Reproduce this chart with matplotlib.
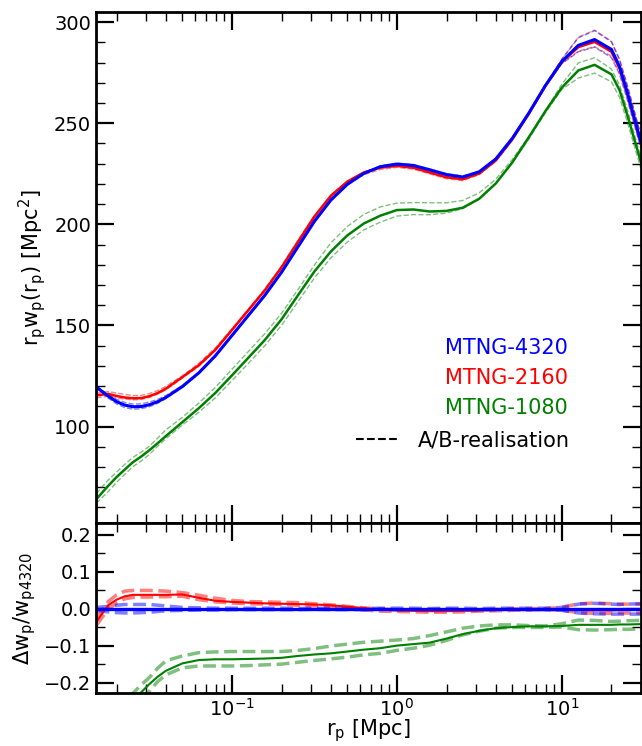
"""
projected clustering of the three MTNG runs
r_p * w_p(r_p) on top, fractional offset from MTNG-4320 below
"""
import numpy as np
import matplotlib
matplotlib.use('Agg')
import matplotlib.pyplot as plt
from matplotlib.lines import Line2D
from matplotlib.ticker import MultipleLocator

# projected separation [Mpc]
rp = [0.0151, 0.0178, 0.0200, 0.0224, 0.0251, 0.0282, 0.0316, 0.0355, 0.0398,
      0.0501, 0.0631, 0.0794, 0.100, 0.126, 0.158, 0.200, 0.251, 0.316, 0.398,
      0.501, 0.631, 0.794, 1.00, 1.26, 1.58, 2.00, 2.51, 3.16, 3.98, 5.01,
      6.31, 7.94, 10.0, 12.6, 15.8, 20.0, 22.4, 25.1, 30.2]

# r_p * w_p for MTNG-4320 [Mpc^2]
wp_4320 = [119.5, 115.0, 112.3, 110.6, 109.8, 109.9, 110.8, 112.3, 114.4,
           119.8, 126.6, 135.0, 145.0, 155.0, 164.8, 176.3, 188.8, 201.4, 212.0,
           219.8, 225.2, 228.5, 229.8, 229.1, 227.0, 224.6, 223.4, 226.0, 232.3,
           242.5, 255.0, 268.5, 280.5, 288.5, 291.4, 286.5, 278.0, 264.5, 240.5]

# fractional difference w.r.t. MTNG-4320, averaged runs
frac_2160 = [-0.034, 0.010, 0.025, 0.034, 0.038, 0.038, 0.038, 0.038, 0.038,
             0.039, 0.030, 0.022, 0.019, 0.017, 0.015, 0.014, 0.013, 0.012, 0.010,
             0.006, 0.002, -0.002, -0.004, -0.005, -0.006, -0.006, -0.005, -0.004, -0.003,
             -0.002, -0.001, 0.000, -0.001, -0.003, -0.004, -0.004, -0.003, -0.002, -0.001]
frac_1080 = [-0.463, -0.385, -0.332, -0.288, -0.250, -0.225, -0.203, -0.183, -0.167,
             -0.147, -0.138, -0.136, -0.136, -0.135, -0.134, -0.132, -0.127, -0.123, -0.120,
             -0.115, -0.110, -0.106, -0.099, -0.095, -0.091, -0.080, -0.068, -0.059, -0.052,
             -0.049, -0.047, -0.047, -0.046, -0.043, -0.043, -0.043, -0.042, -0.042, -0.041]

# single realisations A and B, also relative to the MTNG-4320 mean
frac_4320_A = [0.004, 0.007, 0.010, 0.012, 0.012, 0.012, 0.012, 0.010, 0.008,
               0.004, 0.003, 0.002, 0.002, 0.002, 0.002, 0.002, 0.001, 0.002, 0.002,
               0.002, 0.001, 0.002, 0.002, 0.002, 0.001, 0.002, 0.002, 0.001, 0.002,
               0.002, 0.002, 0.002, 0.004, 0.013, 0.015, 0.013, 0.012, 0.013, 0.014]
frac_4320_B = [-0.004, -0.008, -0.010, -0.011, -0.011, -0.010, -0.009, -0.007, -0.005,
               -0.004, -0.003, -0.003, -0.002, -0.002, -0.002, -0.002, -0.002, -0.001, -0.002,
               -0.002, -0.002, -0.001, -0.002, -0.002, -0.002, -0.001, -0.002, -0.002, -0.002,
               -0.001, -0.002, -0.002, -0.004, -0.011, -0.013, -0.014, -0.014, -0.014, -0.014]
frac_2160_A = [-0.025, 0.020, 0.038, 0.048, 0.050, 0.050, 0.050, 0.049, 0.048,
               0.044, 0.037, 0.029, 0.023, 0.020, 0.019, 0.018, 0.017, 0.014, 0.011,
               0.007, 0.003, 0.000, -0.002, -0.003, -0.004, -0.003, -0.003, -0.002, -0.001,
               0.000, 0.001, 0.001, 0.004, 0.014, 0.016, 0.014, 0.013, 0.013, 0.013]
frac_2160_B = [-0.044, 0.000, 0.016, 0.027, 0.031, 0.032, 0.032, 0.033, 0.033,
               0.034, 0.025, 0.019, 0.016, 0.014, 0.013, 0.012, 0.010, 0.008, 0.005,
               0.001, -0.003, -0.006, -0.007, -0.008, -0.009, -0.009, -0.008, -0.006, -0.005,
               -0.004, -0.003, -0.002, -0.003, -0.010, -0.012, -0.012, -0.011, -0.011, -0.011]
frac_1080_A = [-0.440, -0.360, -0.310, -0.265, -0.228, -0.205, -0.185, -0.160, -0.140,
               -0.127, -0.118, -0.116, -0.115, -0.115, -0.115, -0.115, -0.112, -0.107, -0.100,
               -0.095, -0.090, -0.087, -0.084, -0.080, -0.072, -0.062, -0.052, -0.046, -0.043,
               -0.043, -0.045, -0.046, -0.040, -0.030, -0.031, -0.034, -0.033, -0.032, -0.031]
frac_1080_B = [-0.480, -0.410, -0.355, -0.310, -0.270, -0.245, -0.222, -0.196, -0.178,
               -0.159, -0.154, -0.154, -0.154, -0.153, -0.151, -0.149, -0.144, -0.139, -0.135,
               -0.130, -0.124, -0.120, -0.112, -0.106, -0.098, -0.085, -0.070, -0.060, -0.052,
               -0.050, -0.050, -0.050, -0.049, -0.056, -0.057, -0.056, -0.055, -0.055, -0.054]

runs = ['MTNG-4320', 'MTNG-2160', 'MTNG-1080']
colors = ['blue', 'red', 'green']


def style_axis(ax, major, minor):
    '''
    inward ticks on all four sides, thick frame
    '''
    ax.set_xscale('log')
    ax.set_xlim(0.015, 30)
    ax.yaxis.set_major_locator(MultipleLocator(major))
    ax.yaxis.set_minor_locator(MultipleLocator(minor))
    ax.tick_params(which='both', direction='in', top=True, right=True, labelsize=14)
    ax.tick_params(which='major', length=13, width=1.6)
    ax.tick_params(which='minor', length=6.5, width=1.0)
    for s in ax.spines.values():
        s.set_linewidth(2.0)


x = np.array(rp)
base = np.array(wp_4320)
mean_frac = [np.zeros(len(rp)), np.array(frac_2160), np.array(frac_1080)]
real_frac = [(frac_4320_A, frac_4320_B), (frac_2160_A, frac_2160_B), (frac_1080_A, frac_1080_B)]

fig = plt.figure(figsize=(6.42, 7.46), dpi=100)
ax = fig.add_axes([96/642, 223/746, 544.5/642, 511/746])
axr = fig.add_axes([96/642, 53/746, 544.5/642, 170/746])

# top panel: thin dashed realisations, then the means (4320 last so it sits on top)
for i in [2, 1, 0]:
    for f in real_frac[i]:
        ax.plot(x, base*(1+np.array(f)), c=colors[i], ls='--', lw=1.0, alpha=0.5)
for i, lw in [(2, 1.8), (1, 1.8), (0, 2.2)]:
    ax.plot(x, base*(1+mean_frac[i]), c=colors[i], lw=lw)

style_axis(ax, 50, 10)
ax.set_ylim(52.3, 305)
ax.tick_params(labelbottom=False)
ax.set_ylabel(r'$\mathregular{r_pw_p(r_p)}$ [Mpc$^2$]', fontsize=15)

# run names in their own colour, right aligned
for i, (name, c) in enumerate(zip(runs, colors)):
    ax.text(0.867, 0.342 - 0.0585*i, name, color=c, fontsize=15,
            ha='right', va='center', transform=ax.transAxes)
ax.legend(handles=[Line2D([], [], c='k', ls='--', lw=1.5)], labels=['A/B-realisation'],
          loc='center left', bbox_to_anchor=(0.4775, 0.162), frameon=False, fontsize=15,
          handlelength=2.0, handletextpad=0.95, borderpad=0, borderaxespad=0)

# bottom panel: fractional difference
for i in [2, 1, 0]:
    for f in real_frac[i]:
        axr.plot(x, f, c=colors[i], ls='--', lw=2.5, alpha=0.5)
for i, lw in [(2, 1.5), (1, 1.5), (0, 2.4)]:
    axr.plot(x, mean_frac[i], c=colors[i], lw=lw)

style_axis(axr, 0.1, 0.05)
axr.set_ylim(-0.227, 0.232)
axr.set_ylabel(r'$\mathregular{\Delta w_p/w_{p4320}}$', fontsize=15)
axr.set_xlabel(r'$\mathregular{r_p}$ [Mpc]', fontsize=15)
axr.xaxis.set_label_coords(0.5, -0.145)

fig.savefig('out.png', dpi=100)
